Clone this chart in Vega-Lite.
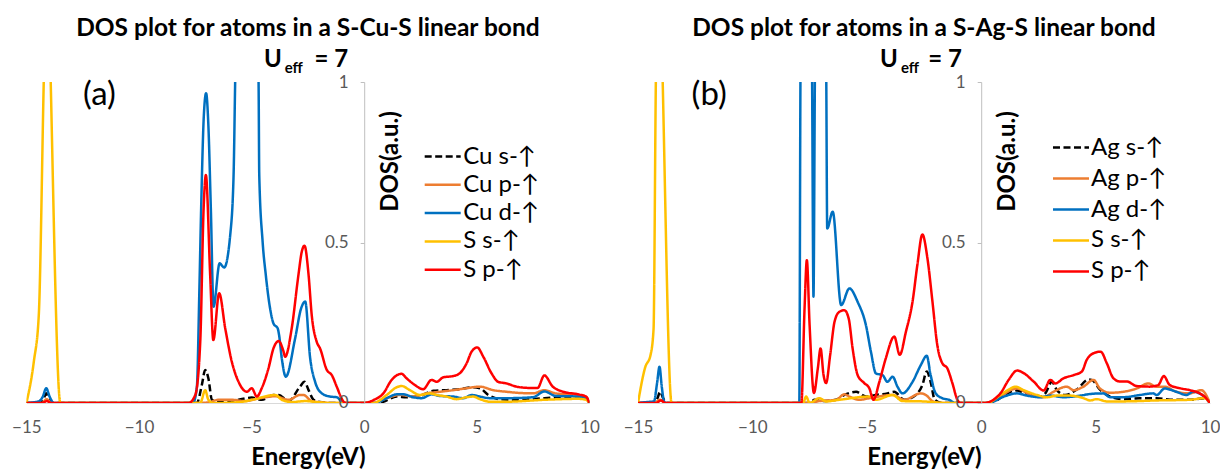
{
"$schema": "https://vega.github.io/schema/vega-lite/v6.json",
"padding": {"left": 11.4, "top": 16, "right": 0, "bottom": 0},
"spacing": 23.6,
"config": {"font": "Lato", "view": {"stroke": null}, "axis": {"grid": false}},
"datasets": {
"cu": [
{"e":-15,"d":0,"s":"Cu s-↑"},{"e":-14.4,"d":0,"s":"Cu s-↑"},{"e":-14.25,"d":0.01,"s":"Cu s-↑"},{"e":-14.12,"d":0.03,"s":"Cu s-↑"},{"e":-13.97,"d":0.01,"s":"Cu s-↑"},{"e":-13.8,"d":0,"s":"Cu s-↑"},{"e":-7.43,"d":0,"s":"Cu s-↑"},{"e":-7.21,"d":0.056,"s":"Cu s-↑"},{"e":-7.06,"d":0.103,"s":"Cu s-↑"},{"e":-6.92,"d":0.077,"s":"Cu s-↑"},{"e":-6.76,"d":0.01,"s":"Cu s-↑"},{"e":-6.47,"d":0.003,"s":"Cu s-↑"},{"e":-5.58,"d":0.01,"s":"Cu s-↑"},{"e":-4.99,"d":0.017,"s":"Cu s-↑"},{"e":-4.55,"d":0.01,"s":"Cu s-↑"},{"e":-4.03,"d":0.025,"s":"Cu s-↑"},{"e":-3.8,"d":0.025,"s":"Cu s-↑"},{"e":-3.36,"d":0.006,"s":"Cu s-↑"},{"e":-2.85,"d":0.051,"s":"Cu s-↑"},{"e":-2.65,"d":0.066,"s":"Cu s-↑"},{"e":-2.47,"d":0.04,"s":"Cu s-↑"},{"e":-2.25,"d":0.01,"s":"Cu s-↑"},{"e":-1.88,"d":0.002,"s":"Cu s-↑"},{"e":-1.5,"d":0,"s":"Cu s-↑"},{"e":0.45,"d":0,"s":"Cu s-↑"},{"e":0.85,"d":0.004,"s":"Cu s-↑"},{"e":1.44,"d":0.02,"s":"Cu s-↑"},{"e":1.88,"d":0.018,"s":"Cu s-↑"},{"e":2.47,"d":0.022,"s":"Cu s-↑"},{"e":3.07,"d":0.038,"s":"Cu s-↑"},{"e":3.66,"d":0.04,"s":"Cu s-↑"},{"e":4.25,"d":0.043,"s":"Cu s-↑"},{"e":4.84,"d":0.049,"s":"Cu s-↑"},{"e":5.14,"d":0.046,"s":"Cu s-↑"},{"e":5.51,"d":0.025,"s":"Cu s-↑"},{"e":6.02,"d":0.012,"s":"Cu s-↑"},{"e":6.76,"d":0.01,"s":"Cu s-↑"},{"e":8,"d":0.015,"s":"Cu s-↑"},{"e":9.5,"d":0.02,"s":"Cu s-↑"},{"e":9.85,"d":0.015,"s":"Cu s-↑"},{"e":10,"d":0,"s":"Cu s-↑"},
{"e":-15,"d":0,"s":"Cu p-↑"},{"e":-14.3,"d":0,"s":"Cu p-↑"},{"e":-14.1,"d":0.012,"s":"Cu p-↑"},{"e":-13.9,"d":0,"s":"Cu p-↑"},{"e":-7.4,"d":0,"s":"Cu p-↑"},{"e":-6.92,"d":0.002,"s":"Cu p-↑"},{"e":-6.47,"d":0.01,"s":"Cu p-↑"},{"e":-5.88,"d":0.01,"s":"Cu p-↑"},{"e":-5.29,"d":0.006,"s":"Cu p-↑"},{"e":-4.7,"d":0.014,"s":"Cu p-↑"},{"e":-3.95,"d":0.021,"s":"Cu p-↑"},{"e":-3.36,"d":0.01,"s":"Cu p-↑"},{"e":-2.85,"d":0.025,"s":"Cu p-↑"},{"e":-2.7,"d":0.025,"s":"Cu p-↑"},{"e":-2.33,"d":0.006,"s":"Cu p-↑"},{"e":-1.88,"d":0.002,"s":"Cu p-↑"},{"e":-1.5,"d":0,"s":"Cu p-↑"},{"e":0.41,"d":0,"s":"Cu p-↑"},{"e":1,"d":0.015,"s":"Cu p-↑"},{"e":1.59,"d":0.025,"s":"Cu p-↑"},{"e":2.18,"d":0.02,"s":"Cu p-↑"},{"e":2.77,"d":0.03,"s":"Cu p-↑"},{"e":3.36,"d":0.035,"s":"Cu p-↑"},{"e":3.96,"d":0.04,"s":"Cu p-↑"},{"e":4.55,"d":0.046,"s":"Cu p-↑"},{"e":5.14,"d":0.051,"s":"Cu p-↑"},{"e":5.73,"d":0.04,"s":"Cu p-↑"},{"e":6.32,"d":0.035,"s":"Cu p-↑"},{"e":6.76,"d":0.032,"s":"Cu p-↑"},{"e":7.5,"d":0.03,"s":"Cu p-↑"},{"e":8,"d":0.04,"s":"Cu p-↑"},{"e":8.5,"d":0.03,"s":"Cu p-↑"},{"e":9.5,"d":0.025,"s":"Cu p-↑"},{"e":9.85,"d":0.02,"s":"Cu p-↑"},{"e":10,"d":0,"s":"Cu p-↑"},
{"e":-15,"d":0,"s":"Cu d-↑"},{"e":-14.6,"d":0.003,"s":"Cu d-↑"},{"e":-14.45,"d":0.005,"s":"Cu d-↑"},{"e":-14.27,"d":0.02,"s":"Cu d-↑"},{"e":-14.12,"d":0.046,"s":"Cu d-↑"},{"e":-13.97,"d":0.02,"s":"Cu d-↑"},{"e":-13.78,"d":0,"s":"Cu d-↑"},{"e":-7.6,"d":0,"s":"Cu d-↑"},{"e":-7.43,"d":0.05,"s":"Cu d-↑"},{"e":-7.32,"d":0.35,"s":"Cu d-↑"},{"e":-7.24,"d":0.607,"s":"Cu d-↑"},{"e":-7.12,"d":0.897,"s":"Cu d-↑"},{"e":-7.02,"d":0.965,"s":"Cu d-↑"},{"e":-6.92,"d":0.866,"s":"Cu d-↑"},{"e":-6.81,"d":0.606,"s":"Cu d-↑"},{"e":-6.69,"d":0.3,"s":"Cu d-↑"},{"e":-6.42,"d":0.435,"s":"Cu d-↑"},{"e":-6.22,"d":0.422,"s":"Cu d-↑"},{"e":-5.95,"d":0.523,"s":"Cu d-↑"},{"e":-5.8,"d":0.71,"s":"Cu d-↑"},{"e":-5.73,"d":1.0,"s":"Cu d-↑"},{"e":-5.2,"d":2.5,"s":"Cu d-↑"},{"e":-4.69,"d":1.0,"s":"Cu d-↑"},{"e":-4.66,"d":0.71,"s":"Cu d-↑"},{"e":-4.51,"d":0.502,"s":"Cu d-↑"},{"e":-4.37,"d":0.399,"s":"Cu d-↑"},{"e":-4.18,"d":0.295,"s":"Cu d-↑"},{"e":-4.03,"d":0.248,"s":"Cu d-↑"},{"e":-3.84,"d":0.232,"s":"Cu d-↑"},{"e":-3.78,"d":0.212,"s":"Cu d-↑"},{"e":-3.66,"d":0.139,"s":"Cu d-↑"},{"e":-3.48,"d":0.082,"s":"Cu d-↑"},{"e":-3.07,"d":0.2,"s":"Cu d-↑"},{"e":-2.8,"d":0.295,"s":"Cu d-↑"},{"e":-2.62,"d":0.316,"s":"Cu d-↑"},{"e":-2.4,"d":0.14,"s":"Cu d-↑"},{"e":-2.18,"d":0.066,"s":"Cu d-↑"},{"e":-1.88,"d":0.03,"s":"Cu d-↑"},{"e":-1.52,"d":0.02,"s":"Cu d-↑"},{"e":-1.22,"d":0.018,"s":"Cu d-↑"},{"e":-1,"d":0.004,"s":"Cu d-↑"},{"e":-0.85,"d":0,"s":"Cu d-↑"},{"e":0.45,"d":0,"s":"Cu d-↑"},{"e":1,"d":0.015,"s":"Cu d-↑"},{"e":1.44,"d":0.027,"s":"Cu d-↑"},{"e":1.73,"d":0.027,"s":"Cu d-↑"},{"e":2.18,"d":0.018,"s":"Cu d-↑"},{"e":2.55,"d":0.015,"s":"Cu d-↑"},{"e":2.99,"d":0.027,"s":"Cu d-↑"},{"e":3.36,"d":0.022,"s":"Cu d-↑"},{"e":3.96,"d":0.02,"s":"Cu d-↑"},{"e":4.4,"d":0.015,"s":"Cu d-↑"},{"e":4.77,"d":0.025,"s":"Cu d-↑"},{"e":5.14,"d":0.02,"s":"Cu d-↑"},{"e":5.58,"d":0.015,"s":"Cu d-↑"},{"e":6.32,"d":0.015,"s":"Cu d-↑"},{"e":7.5,"d":0.018,"s":"Cu d-↑"},{"e":8,"d":0.036,"s":"Cu d-↑"},{"e":8.5,"d":0.022,"s":"Cu d-↑"},{"e":9.5,"d":0.02,"s":"Cu d-↑"},{"e":9.85,"d":0.015,"s":"Cu d-↑"},{"e":10,"d":0,"s":"Cu d-↑"},
{"e":-15,"d":0,"s":"S s-↑"},{"e":-14.67,"d":0.129,"s":"S s-↑"},{"e":-14.45,"d":0.274,"s":"S s-↑"},{"e":-14.23,"d":1.0,"s":"S s-↑"},{"e":-14.07,"d":1.5,"s":"S s-↑"},{"e":-13.92,"d":1.0,"s":"S s-↑"},{"e":-13.49,"d":0,"s":"S s-↑"},{"e":-7.28,"d":0,"s":"S s-↑"},{"e":-7.06,"d":0.04,"s":"S s-↑"},{"e":-6.92,"d":0.01,"s":"S s-↑"},{"e":-6.69,"d":0,"s":"S s-↑"},{"e":-5.5,"d":0.003,"s":"S s-↑"},{"e":-4.99,"d":0.01,"s":"S s-↑"},{"e":-3.95,"d":0.025,"s":"S s-↑"},{"e":-3.66,"d":0.01,"s":"S s-↑"},{"e":-3.22,"d":0.003,"s":"S s-↑"},{"e":-2.62,"d":0.006,"s":"S s-↑"},{"e":-2,"d":0.002,"s":"S s-↑"},{"e":-1.5,"d":0,"s":"S s-↑"},{"e":0.41,"d":0,"s":"S s-↑"},{"e":1,"d":0.025,"s":"S s-↑"},{"e":1.44,"d":0.049,"s":"S s-↑"},{"e":1.66,"d":0.053,"s":"S s-↑"},{"e":2.03,"d":0.04,"s":"S s-↑"},{"e":2.47,"d":0.025,"s":"S s-↑"},{"e":2.92,"d":0.03,"s":"S s-↑"},{"e":3.22,"d":0.025,"s":"S s-↑"},{"e":3.66,"d":0.02,"s":"S s-↑"},{"e":4.1,"d":0.012,"s":"S s-↑"},{"e":4.55,"d":0.018,"s":"S s-↑"},{"e":4.84,"d":0.02,"s":"S s-↑"},{"e":5.14,"d":0.012,"s":"S s-↑"},{"e":5.58,"d":0.004,"s":"S s-↑"},{"e":6.32,"d":0.004,"s":"S s-↑"},{"e":8,"d":0.01,"s":"S s-↑"},{"e":9.5,"d":0.013,"s":"S s-↑"},{"e":9.85,"d":0.01,"s":"S s-↑"},{"e":10,"d":0,"s":"S s-↑"},
{"e":-15,"d":0,"s":"S p-↑"},{"e":-14.3,"d":0,"s":"S p-↑"},{"e":-14.1,"d":0.006,"s":"S p-↑"},{"e":-13.9,"d":0,"s":"S p-↑"},{"e":-7.8,"d":0,"s":"S p-↑"},{"e":-7.5,"d":0.025,"s":"S p-↑"},{"e":-7.28,"d":0.191,"s":"S p-↑"},{"e":-7.13,"d":0.607,"s":"S p-↑"},{"e":-7.03,"d":0.71,"s":"S p-↑"},{"e":-6.84,"d":0.399,"s":"S p-↑"},{"e":-6.7,"d":0.196,"s":"S p-↑"},{"e":-6.44,"d":0.342,"s":"S p-↑"},{"e":-6.17,"d":0.232,"s":"S p-↑"},{"e":-5.88,"d":0.129,"s":"S p-↑"},{"e":-5.58,"d":0.066,"s":"S p-↑"},{"e":-5.21,"d":0.035,"s":"S p-↑"},{"e":-4.99,"d":0.046,"s":"S p-↑"},{"e":-4.77,"d":0.02,"s":"S p-↑"},{"e":-4.55,"d":0.046,"s":"S p-↑"},{"e":-4.25,"d":0.108,"s":"S p-↑"},{"e":-4.03,"d":0.17,"s":"S p-↑"},{"e":-3.8,"d":0.193,"s":"S p-↑"},{"e":-3.58,"d":0.16,"s":"S p-↑"},{"e":-3.51,"d":0.144,"s":"S p-↑"},{"e":-3.22,"d":0.232,"s":"S p-↑"},{"e":-2.92,"d":0.399,"s":"S p-↑"},{"e":-2.77,"d":0.472,"s":"S p-↑"},{"e":-2.65,"d":0.49,"s":"S p-↑"},{"e":-2.47,"d":0.399,"s":"S p-↑"},{"e":-2.33,"d":0.274,"s":"S p-↑"},{"e":-2.11,"d":0.191,"s":"S p-↑"},{"e":-1.96,"d":0.17,"s":"S p-↑"},{"e":-1.66,"d":0.103,"s":"S p-↑"},{"e":-1.44,"d":0.087,"s":"S p-↑"},{"e":-1.22,"d":0.051,"s":"S p-↑"},{"e":-1,"d":0.014,"s":"S p-↑"},{"e":-0.85,"d":0,"s":"S p-↑"},{"e":0,"d":0,"s":"S p-↑"},{"e":0.41,"d":0.009,"s":"S p-↑"},{"e":0.85,"d":0.03,"s":"S p-↑"},{"e":1.22,"d":0.072,"s":"S p-↑"},{"e":1.66,"d":0.091,"s":"S p-↑"},{"e":1.88,"d":0.077,"s":"S p-↑"},{"e":2.25,"d":0.056,"s":"S p-↑"},{"e":2.62,"d":0.043,"s":"S p-↑"},{"e":2.99,"d":0.072,"s":"S p-↑"},{"e":3.22,"d":0.066,"s":"S p-↑"},{"e":3.51,"d":0.08,"s":"S p-↑"},{"e":3.96,"d":0.084,"s":"S p-↑"},{"e":4.25,"d":0.093,"s":"S p-↑"},{"e":4.55,"d":0.124,"s":"S p-↑"},{"e":4.77,"d":0.16,"s":"S p-↑"},{"e":5.02,"d":0.173,"s":"S p-↑"},{"e":5.29,"d":0.144,"s":"S p-↑"},{"e":5.65,"d":0.093,"s":"S p-↑"},{"e":5.95,"d":0.066,"s":"S p-↑"},{"e":6.32,"d":0.061,"s":"S p-↑"},{"e":6.76,"d":0.051,"s":"S p-↑"},{"e":7.33,"d":0.047,"s":"S p-↑"},{"e":7.7,"d":0.047,"s":"S p-↑"},{"e":8,"d":0.086,"s":"S p-↑"},{"e":8.36,"d":0.052,"s":"S p-↑"},{"e":8.79,"d":0.036,"s":"S p-↑"},{"e":9.57,"d":0.026,"s":"S p-↑"},{"e":9.85,"d":0.02,"s":"S p-↑"},{"e":10,"d":0,"s":"S p-↑"}
],
"ag": [
{"e":-15,"d":0,"s":"Ag s-↑"},{"e":-14.3,"d":0,"s":"Ag s-↑"},{"e":-14.15,"d":0.015,"s":"Ag s-↑"},{"e":-14.03,"d":0.035,"s":"Ag s-↑"},{"e":-13.9,"d":0.015,"s":"Ag s-↑"},{"e":-13.75,"d":0,"s":"Ag s-↑"},{"e":-7.5,"d":0,"s":"Ag s-↑"},{"e":-7.28,"d":0.01,"s":"Ag s-↑"},{"e":-6.92,"d":0.006,"s":"Ag s-↑"},{"e":-6.34,"d":0.01,"s":"Ag s-↑"},{"e":-5.98,"d":0.025,"s":"Ag s-↑"},{"e":-5.47,"d":0.035,"s":"Ag s-↑"},{"e":-5.04,"d":0.02,"s":"Ag s-↑"},{"e":-4.6,"d":0.025,"s":"Ag s-↑"},{"e":-4.1,"d":0.03,"s":"Ag s-↑"},{"e":-3.8,"d":0.035,"s":"Ag s-↑"},{"e":-3.37,"d":0.01,"s":"Ag s-↑"},{"e":-2.86,"d":0.025,"s":"Ag s-↑"},{"e":-2.57,"d":0.056,"s":"Ag s-↑"},{"e":-2.38,"d":0.098,"s":"Ag s-↑"},{"e":-2.21,"d":0.066,"s":"Ag s-↑"},{"e":-2.03,"d":0.01,"s":"Ag s-↑"},{"e":-1.7,"d":0,"s":"Ag s-↑"},{"e":0.41,"d":0,"s":"Ag s-↑"},{"e":0.99,"d":0.023,"s":"Ag s-↑"},{"e":1.49,"d":0.04,"s":"Ag s-↑"},{"e":2,"d":0.028,"s":"Ag s-↑"},{"e":2.58,"d":0.02,"s":"Ag s-↑"},{"e":2.8,"d":0.03,"s":"Ag s-↑"},{"e":3.09,"d":0.066,"s":"Ag s-↑"},{"e":3.31,"d":0.04,"s":"Ag s-↑"},{"e":3.67,"d":0.025,"s":"Ag s-↑"},{"e":4.18,"d":0.042,"s":"Ag s-↑"},{"e":4.69,"d":0.073,"s":"Ag s-↑"},{"e":4.83,"d":0.072,"s":"Ag s-↑"},{"e":5.19,"d":0.042,"s":"Ag s-↑"},{"e":5.63,"d":0.02,"s":"Ag s-↑"},{"e":6.21,"d":0.012,"s":"Ag s-↑"},{"e":6.94,"d":0.015,"s":"Ag s-↑"},{"e":7.67,"d":0.015,"s":"Ag s-↑"},{"e":8.39,"d":0.01,"s":"Ag s-↑"},{"e":9.11,"d":0.01,"s":"Ag s-↑"},{"e":9.76,"d":0.015,"s":"Ag s-↑"},{"e":10,"d":0,"s":"Ag s-↑"},
{"e":-15,"d":0,"s":"Ag p-↑"},{"e":-14.3,"d":0,"s":"Ag p-↑"},{"e":-14.05,"d":0.01,"s":"Ag p-↑"},{"e":-13.8,"d":0,"s":"Ag p-↑"},{"e":-7.6,"d":0,"s":"Ag p-↑"},{"e":-7.07,"d":0.006,"s":"Ag p-↑"},{"e":-6.34,"d":0.01,"s":"Ag p-↑"},{"e":-5.98,"d":0.027,"s":"Ag p-↑"},{"e":-5.76,"d":0.02,"s":"Ag p-↑"},{"e":-5.33,"d":0.01,"s":"Ag p-↑"},{"e":-4.89,"d":0.015,"s":"Ag p-↑"},{"e":-3.87,"d":0.025,"s":"Ag p-↑"},{"e":-3.37,"d":0.01,"s":"Ag p-↑"},{"e":-2.64,"d":0.03,"s":"Ag p-↑"},{"e":-2.42,"d":0.025,"s":"Ag p-↑"},{"e":-2.13,"d":0.006,"s":"Ag p-↑"},{"e":-1.8,"d":0,"s":"Ag p-↑"},{"e":0.26,"d":0,"s":"Ag p-↑"},{"e":0.84,"d":0.02,"s":"Ag p-↑"},{"e":1.35,"d":0.042,"s":"Ag p-↑"},{"e":1.57,"d":0.045,"s":"Ag p-↑"},{"e":2.15,"d":0.025,"s":"Ag p-↑"},{"e":2.73,"d":0.018,"s":"Ag p-↑"},{"e":3.16,"d":0.035,"s":"Ag p-↑"},{"e":3.74,"d":0.051,"s":"Ag p-↑"},{"e":4.04,"d":0.04,"s":"Ag p-↑"},{"e":4.47,"d":0.051,"s":"Ag p-↑"},{"e":4.91,"d":0.072,"s":"Ag p-↑"},{"e":5.19,"d":0.045,"s":"Ag p-↑"},{"e":5.63,"d":0.032,"s":"Ag p-↑"},{"e":6.21,"d":0.035,"s":"Ag p-↑"},{"e":6.79,"d":0.045,"s":"Ag p-↑"},{"e":7.3,"d":0.061,"s":"Ag p-↑"},{"e":7.67,"d":0.051,"s":"Ag p-↑"},{"e":8.02,"d":0.051,"s":"Ag p-↑"},{"e":8.53,"d":0.035,"s":"Ag p-↑"},{"e":9.11,"d":0.03,"s":"Ag p-↑"},{"e":9.62,"d":0.04,"s":"Ag p-↑"},{"e":10,"d":0,"s":"Ag p-↑"},
{"e":-15,"d":0,"s":"Ag d-↑"},{"e":-14.6,"d":0.003,"s":"Ag d-↑"},{"e":-14.3,"d":0.005,"s":"Ag d-↑"},{"e":-14.17,"d":0.06,"s":"Ag d-↑"},{"e":-14.06,"d":0.113,"s":"Ag d-↑"},{"e":-13.96,"d":0.05,"s":"Ag d-↑"},{"e":-13.86,"d":0.005,"s":"Ag d-↑"},{"e":-13.77,"d":0,"s":"Ag d-↑"},{"e":-7.95,"d":0,"s":"Ag d-↑"},{"e":-7.9,"d":1.0,"s":"Ag d-↑"},{"e":-7.65,"d":2.5,"s":"Ag d-↑"},{"e":-7.39,"d":1.0,"s":"Ag d-↑"},{"e":-7.33,"d":0.331,"s":"Ag d-↑"},{"e":-7.27,"d":1.0,"s":"Ag d-↑"},{"e":-7.0,"d":2.5,"s":"Ag d-↑"},{"e":-6.77,"d":1.0,"s":"Ag d-↑"},{"e":-6.73,"d":0.544,"s":"Ag d-↑"},{"e":-6.49,"d":0.596,"s":"Ag d-↑"},{"e":-6.12,"d":0.305,"s":"Ag d-↑"},{"e":-5.76,"d":0.357,"s":"Ag d-↑"},{"e":-5.4,"d":0.315,"s":"Ag d-↑"},{"e":-5.04,"d":0.243,"s":"Ag d-↑"},{"e":-4.82,"d":0.16,"s":"Ag d-↑"},{"e":-4.6,"d":0.092,"s":"Ag d-↑"},{"e":-4.31,"d":0.087,"s":"Ag d-↑"},{"e":-4.1,"d":0.066,"s":"Ag d-↑"},{"e":-3.87,"d":0.082,"s":"Ag d-↑"},{"e":-3.66,"d":0.051,"s":"Ag d-↑"},{"e":-3.44,"d":0.03,"s":"Ag d-↑"},{"e":-3.0,"d":0.066,"s":"Ag d-↑"},{"e":-2.64,"d":0.118,"s":"Ag d-↑"},{"e":-2.38,"d":0.147,"s":"Ag d-↑"},{"e":-2.21,"d":0.087,"s":"Ag d-↑"},{"e":-1.99,"d":0.03,"s":"Ag d-↑"},{"e":-1.7,"d":0.015,"s":"Ag d-↑"},{"e":-1.41,"d":0.01,"s":"Ag d-↑"},{"e":-1.12,"d":0,"s":"Ag d-↑"},{"e":0,"d":0,"s":"Ag d-↑"},{"e":0.41,"d":0.002,"s":"Ag d-↑"},{"e":0.99,"d":0.02,"s":"Ag d-↑"},{"e":1.57,"d":0.03,"s":"Ag d-↑"},{"e":2,"d":0.023,"s":"Ag d-↑"},{"e":2.58,"d":0.018,"s":"Ag d-↑"},{"e":3.02,"d":0.023,"s":"Ag d-↑"},{"e":3.6,"d":0.018,"s":"Ag d-↑"},{"e":4.32,"d":0.023,"s":"Ag d-↑"},{"e":4.76,"d":0.028,"s":"Ag d-↑"},{"e":5.34,"d":0.03,"s":"Ag d-↑"},{"e":5.63,"d":0.018,"s":"Ag d-↑"},{"e":6.21,"d":0.018,"s":"Ag d-↑"},{"e":6.94,"d":0.025,"s":"Ag d-↑"},{"e":7.52,"d":0.03,"s":"Ag d-↑"},{"e":7.67,"d":0.025,"s":"Ag d-↑"},{"e":8.02,"d":0.045,"s":"Ag d-↑"},{"e":8.53,"d":0.035,"s":"Ag d-↑"},{"e":8.97,"d":0.025,"s":"Ag d-↑"},{"e":9.26,"d":0.035,"s":"Ag d-↑"},{"e":9.69,"d":0.023,"s":"Ag d-↑"},{"e":10,"d":0,"s":"Ag d-↑"},
{"e":-15,"d":0,"s":"S s-↑"},{"e":-14.69,"d":0.11,"s":"S s-↑"},{"e":-14.45,"d":0.15,"s":"S s-↑"},{"e":-14.32,"d":0.23,"s":"S s-↑"},{"e":-14.22,"d":1.0,"s":"S s-↑"},{"e":-14.07,"d":1.5,"s":"S s-↑"},{"e":-13.92,"d":1.0,"s":"S s-↑"},{"e":-13.53,"d":0,"s":"S s-↑"},{"e":-7.79,"d":0,"s":"S s-↑"},{"e":-7.65,"d":0.02,"s":"S s-↑"},{"e":-7.5,"d":0,"s":"S s-↑"},{"e":-7.07,"d":0.015,"s":"S s-↑"},{"e":-6.78,"d":0.005,"s":"S s-↑"},{"e":-6.2,"d":0.01,"s":"S s-↑"},{"e":-4.89,"d":0.02,"s":"S s-↑"},{"e":-4.6,"d":0.01,"s":"S s-↑"},{"e":-3.87,"d":0.025,"s":"S s-↑"},{"e":-3.44,"d":0.006,"s":"S s-↑"},{"e":-2.57,"d":0.005,"s":"S s-↑"},{"e":-1.5,"d":0,"s":"S s-↑"},{"e":0.26,"d":0,"s":"S s-↑"},{"e":0.84,"d":0.025,"s":"S s-↑"},{"e":1.28,"d":0.045,"s":"S s-↑"},{"e":1.49,"d":0.051,"s":"S s-↑"},{"e":1.86,"d":0.04,"s":"S s-↑"},{"e":2.44,"d":0.025,"s":"S s-↑"},{"e":2.87,"d":0.018,"s":"S s-↑"},{"e":3.31,"d":0.023,"s":"S s-↑"},{"e":3.89,"d":0.023,"s":"S s-↑"},{"e":4.47,"d":0.015,"s":"S s-↑"},{"e":4.76,"d":0.008,"s":"S s-↑"},{"e":5.05,"d":0.012,"s":"S s-↑"},{"e":5.49,"d":0.005,"s":"S s-↑"},{"e":6.21,"d":0.005,"s":"S s-↑"},{"e":7.67,"d":0.008,"s":"S s-↑"},{"e":9.11,"d":0.01,"s":"S s-↑"},{"e":9.76,"d":0.015,"s":"S s-↑"},{"e":10,"d":0,"s":"S s-↑"},
{"e":-15,"d":0,"s":"S p-↑"},{"e":-14.2,"d":0,"s":"S p-↑"},{"e":-14,"d":0.008,"s":"S p-↑"},{"e":-13.8,"d":0,"s":"S p-↑"},{"e":-7.86,"d":0,"s":"S p-↑"},{"e":-7.72,"d":0.295,"s":"S p-↑"},{"e":-7.62,"d":0.445,"s":"S p-↑"},{"e":-7.5,"d":0.243,"s":"S p-↑"},{"e":-7.31,"d":0.031,"s":"S p-↑"},{"e":-7.14,"d":0.108,"s":"S p-↑"},{"e":-7.02,"d":0.17,"s":"S p-↑"},{"e":-6.89,"d":0.087,"s":"S p-↑"},{"e":-6.78,"d":0.062,"s":"S p-↑"},{"e":-6.6,"d":0.15,"s":"S p-↑"},{"e":-6.41,"d":0.253,"s":"S p-↑"},{"e":-6.2,"d":0.284,"s":"S p-↑"},{"e":-5.98,"d":0.289,"s":"S p-↑"},{"e":-5.79,"d":0.263,"s":"S p-↑"},{"e":-5.62,"d":0.17,"s":"S p-↑"},{"e":-5.4,"d":0.087,"s":"S p-↑"},{"e":-5.11,"d":0.062,"s":"S p-↑"},{"e":-4.89,"d":0.046,"s":"S p-↑"},{"e":-4.71,"d":0.01,"s":"S p-↑"},{"e":-4.45,"d":0.066,"s":"S p-↑"},{"e":-4.17,"d":0.139,"s":"S p-↑"},{"e":-3.8,"d":0.207,"s":"S p-↑"},{"e":-3.56,"d":0.15,"s":"S p-↑"},{"e":-3.29,"d":0.222,"s":"S p-↑"},{"e":-3.0,"d":0.316,"s":"S p-↑"},{"e":-2.79,"d":0.43,"s":"S p-↑"},{"e":-2.57,"d":0.525,"s":"S p-↑"},{"e":-2.35,"d":0.451,"s":"S p-↑"},{"e":-2.13,"d":0.316,"s":"S p-↑"},{"e":-1.92,"d":0.181,"s":"S p-↑"},{"e":-1.7,"d":0.124,"s":"S p-↑"},{"e":-1.48,"d":0.108,"s":"S p-↑"},{"e":-1.26,"d":0.062,"s":"S p-↑"},{"e":-1.04,"d":0.01,"s":"S p-↑"},{"e":-0.9,"d":0,"s":"S p-↑"},{"e":0.12,"d":0,"s":"S p-↑"},{"e":0.84,"d":0.03,"s":"S p-↑"},{"e":1.2,"d":0.072,"s":"S p-↑"},{"e":1.57,"d":0.101,"s":"S p-↑"},{"e":1.86,"d":0.093,"s":"S p-↑"},{"e":2.29,"d":0.067,"s":"S p-↑"},{"e":2.73,"d":0.039,"s":"S p-↑"},{"e":3.02,"d":0.072,"s":"S p-↑"},{"e":3.24,"d":0.061,"s":"S p-↑"},{"e":3.6,"d":0.077,"s":"S p-↑"},{"e":4.04,"d":0.087,"s":"S p-↑"},{"e":4.4,"d":0.098,"s":"S p-↑"},{"e":4.61,"d":0.134,"s":"S p-↑"},{"e":4.91,"d":0.155,"s":"S p-↑"},{"e":5.22,"d":0.16,"s":"S p-↑"},{"e":5.49,"d":0.124,"s":"S p-↑"},{"e":5.78,"d":0.077,"s":"S p-↑"},{"e":6.07,"d":0.067,"s":"S p-↑"},{"e":6.36,"d":0.067,"s":"S p-↑"},{"e":6.79,"d":0.053,"s":"S p-↑"},{"e":7.37,"d":0.051,"s":"S p-↑"},{"e":7.74,"d":0.056,"s":"S p-↑"},{"e":7.98,"d":0.084,"s":"S p-↑"},{"e":8.24,"d":0.056,"s":"S p-↑"},{"e":8.68,"d":0.046,"s":"S p-↑"},{"e":9.11,"d":0.04,"s":"S p-↑"},{"e":9.55,"d":0.03,"s":"S p-↑"},{"e":9.76,"d":0.02,"s":"S p-↑"},{"e":10,"d":0,"s":"S p-↑"}
]
},
"hconcat": [
{
"width": 563, "height": 321,
"title": {"text": "DOS plot for atoms in a S-Cu-S linear bond", "font": "Lato", "fontSize": 24.5, "fontWeight": "bold", "color": "#000000", "anchor": "middle", "frame": "group", "offset": 6},
"layer": [
{"data": {"name": "cu"},
 "mark": {"type": "line", "interpolate": "monotone", "strokeWidth": 2.5, "clip": true},
 "encoding": {
  "x": {"field": "e", "type": "quantitative", "scale": {"domain": [-15, 10], "nice": false, "zero": false},
        "axis": {"title": "Energy(eV)", "values": [-15, -10, -5, 0, 5, 10], "labelFlush": false, "ticks": false, "domainColor": "#d9d9d9", "labelFont": "Lato", "labelFontSize": 17, "labelColor": "#595959", "labelPadding": 17, "titleFont": "Lato", "titleFontSize": 24, "titleFontWeight": "bold", "titleColor": "#000000", "titlePadding": 10}},
  "y": {"field": "d", "type": "quantitative", "scale": {"domain": [0, 1], "nice": false, "zero": false},
        "axis": {"title": "DOS(a.u.)", "orient": "left", "offset": -337.8, "zindex": 1, "values": [0, 0.5, 1], "format": "~g", "tickSize": 4, "tickColor": "#bfbfbf", "domainColor": "#bfbfbf", "labelFont": "Lato", "labelFontSize": 17, "labelColor": "#595959", "labelPadding": 12, "titleFont": "Lato", "titleFontSize": 24, "titleFontWeight": "bold", "titleColor": "#000000", "titleAngle": -90, "titleX": 26, "titleY": 79, "titleAlign": "center", "titleBaseline": "middle"}},
  "color": {"field": "s", "type": "nominal", "scale": {"domain": ["Cu s-↑", "Cu p-↑", "Cu d-↑", "S s-↑", "S p-↑"], "range": ["#000000", "#ED7D31", "#0070C0", "#FFC000", "#FF0000"]},
        "legend": {"orient": "none", "legendX": 402.8, "legendY": 61, "title": null, "padding": 0, "symbolType": "M-1.5,0H1.5", "symbolSize": 576, "symbolStrokeWidth": 2.5, "labelFont": "Lato", "labelFontSize": 24, "labelColor": "#000000", "labelOffset": 7, "rowPadding": 2.3, "labelLimit": 300}},
  "strokeDash": {"field": "s", "type": "nominal", "scale": {"domain": ["Cu s-↑", "Cu p-↑", "Cu d-↑", "S s-↑", "S p-↑"], "range": [[7, 3.5], [1, 0], [1, 0], [1, 0], [1, 0]]},
        "legend": {"orient": "none", "legendX": 402.8, "legendY": 61, "title": null, "padding": 0, "symbolType": "M-1.5,0H1.5", "symbolSize": 576, "symbolStrokeWidth": 2.5, "labelFont": "Lato", "labelFontSize": 24, "labelColor": "#000000", "labelOffset": 7, "rowPadding": 2.3, "labelLimit": 300}}
 }},
{"data": {"values": [{}]}, "mark": {"type": "text", "text": "(a)", "font": "Lato", "fontSize": 33, "align": "center", "baseline": "middle", "color": "#000000"},
 "encoding": {"x": {"datum": -11.76}, "y": {"datum": 0.96}}},
{"data": {"values": [{}]}, "mark": {"type": "text", "text": "U", "font": "Lato", "fontSize": 24, "fontWeight": "bold", "align": "right", "baseline": "alphabetic", "color": "#000000"},
 "encoding": {"x": {"datum": -3.66}, "y": {"datum": 1.048}}},
{"data": {"values": [{}]}, "mark": {"type": "text", "text": "eff", "font": "Lato", "fontSize": 15, "fontWeight": "bold", "align": "left", "baseline": "alphabetic", "color": "#000000"},
 "encoding": {"x": {"datum": -3.53}, "y": {"datum": 1.029}}},
{"data": {"values": [{}]}, "mark": {"type": "text", "text": "= 7", "font": "Lato", "fontSize": 24, "fontWeight": "bold", "align": "left", "baseline": "alphabetic", "color": "#000000"},
 "encoding": {"x": {"datum": -2.21}, "y": {"datum": 1.048}}}
]
},
{
"width": 572, "height": 321,
"title": {"text": "DOS plot for atoms in a S-Ag-S linear bond", "font": "Lato", "fontSize": 24.5, "fontWeight": "bold", "color": "#000000", "anchor": "middle", "frame": "group", "offset": 6},
"layer": [
{"data": {"name": "ag"},
 "mark": {"type": "line", "interpolate": "monotone", "strokeWidth": 2.5, "clip": true},
 "encoding": {
  "x": {"field": "e", "type": "quantitative", "scale": {"domain": [-15, 10], "nice": false, "zero": false},
        "axis": {"title": "Energy(eV)", "values": [-15, -10, -5, 0, 5, 10], "labelFlush": false, "ticks": false, "domainColor": "#d9d9d9", "labelFont": "Lato", "labelFontSize": 17, "labelColor": "#595959", "labelPadding": 17, "titleFont": "Lato", "titleFontSize": 24, "titleFontWeight": "bold", "titleColor": "#000000", "titlePadding": 10}},
  "y": {"field": "d", "type": "quantitative", "scale": {"domain": [0, 1], "nice": false, "zero": false},
        "axis": {"title": "DOS(a.u.)", "orient": "left", "offset": -343.2, "zindex": 1, "values": [0, 0.5, 1], "format": "~g", "tickSize": 4, "tickColor": "#bfbfbf", "domainColor": "#bfbfbf", "labelFont": "Lato", "labelFontSize": 17, "labelColor": "#595959", "labelPadding": 12, "titleFont": "Lato", "titleFontSize": 24, "titleFontWeight": "bold", "titleColor": "#000000", "titleAngle": -90, "titleX": 26.5, "titleY": 79, "titleAlign": "center", "titleBaseline": "middle"}},
  "color": {"field": "s", "type": "nominal", "scale": {"domain": ["Ag s-↑", "Ag p-↑", "Ag d-↑", "S s-↑", "S p-↑"], "range": ["#000000", "#ED7D31", "#0070C0", "#FFC000", "#FF0000"]},
        "legend": {"orient": "none", "legendX": 419.5, "legendY": 52, "title": null, "padding": 0, "symbolType": "M-1.5,0H1.5", "symbolSize": 576, "symbolStrokeWidth": 2.5, "labelFont": "Lato", "labelFontSize": 24, "labelColor": "#000000", "labelOffset": 6.5, "rowPadding": 5, "labelLimit": 300}},
  "strokeDash": {"field": "s", "type": "nominal", "scale": {"domain": ["Ag s-↑", "Ag p-↑", "Ag d-↑", "S s-↑", "S p-↑"], "range": [[7, 3.5], [1, 0], [1, 0], [1, 0], [1, 0]]},
        "legend": {"orient": "none", "legendX": 419.5, "legendY": 52, "title": null, "padding": 0, "symbolType": "M-1.5,0H1.5", "symbolSize": 576, "symbolStrokeWidth": 2.5, "labelFont": "Lato", "labelFontSize": 24, "labelColor": "#000000", "labelOffset": 6.5, "rowPadding": 5, "labelLimit": 300}}
 }},
{"data": {"values": [{}]}, "mark": {"type": "text", "text": "(b)", "font": "Lato", "fontSize": 33, "align": "center", "baseline": "middle", "color": "#000000"},
 "encoding": {"x": {"datum": -11.89}, "y": {"datum": 0.96}}},
{"data": {"values": [{}]}, "mark": {"type": "text", "text": "U", "font": "Lato", "fontSize": 24, "fontWeight": "bold", "align": "right", "baseline": "alphabetic", "color": "#000000"},
 "encoding": {"x": {"datum": -3.64}, "y": {"datum": 1.048}}},
{"data": {"values": [{}]}, "mark": {"type": "text", "text": "eff", "font": "Lato", "fontSize": 15, "fontWeight": "bold", "align": "left", "baseline": "alphabetic", "color": "#000000"},
 "encoding": {"x": {"datum": -3.51}, "y": {"datum": 1.029}}},
{"data": {"values": [{}]}, "mark": {"type": "text", "text": "= 7", "font": "Lato", "fontSize": 24, "fontWeight": "bold", "align": "left", "baseline": "alphabetic", "color": "#000000"},
 "encoding": {"x": {"datum": -2.31}, "y": {"datum": 1.048}}}
]
}
],
"resolve": {"scale": {"x": "independent", "y": "independent", "color": "independent", "strokeDash": "independent"}, "legend": {"color": "independent", "strokeDash": "independent"}}
}
